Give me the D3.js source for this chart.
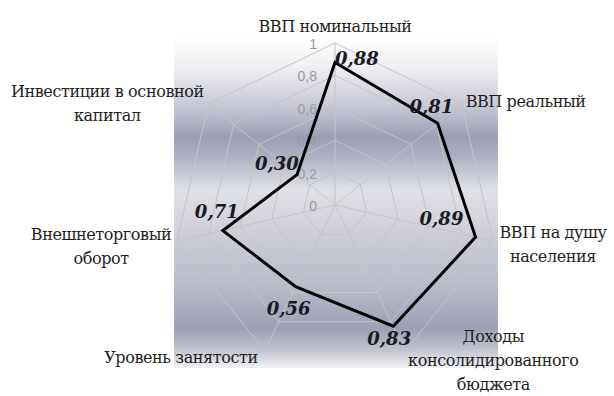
<!DOCTYPE html>
<html>
<head>
<meta charset="utf-8">
<script src="https://cdn.jsdelivr.net/npm/d3@7"></script>
<style>
  body { margin: 0; background: #fff; }
  svg { display: block; }
  .axis-label { font-family: "DejaVu Serif", "Liberation Serif", serif; font-size: 16px; fill: #1e1e1e; letter-spacing: -0.4px; }
  .value-label { font-family: "DejaVu Serif", "Liberation Serif", serif; font-size: 18px; font-weight: bold; font-style: italic; fill: #1a1a22; }
  .tick-label { font-family: "Liberation Sans", Arial, sans-serif; font-size: 14px; fill: #9a9a9a; }
</style>
</head>
<body>
<div id="chart"></div>
<script>
const categories = [
  ["ВВП номинальный"],
  ["ВВП реальный"],
  ["ВВП на душу", "населения"],
  ["Доходы", "консолидированного", "бюджета"],
  ["Уровень занятости"],
  ["Внешнеторговый", "оборот"],
  ["Инвестиции в основной", "капитал"]
];
const values = [0.88, 0.81, 0.89, 0.83, 0.56, 0.71, 0.30];
const ticks = [0, 0.2, 0.4, 0.6, 0.8, 1];

// label placement relative to the outer ring vertex: [dx, dy, anchor]
const labelOffset = [
  [0, -11, "middle"],
  [4, 3, "start"],
  [60, -3, "middle"],
  [88, -9, "middle"],
  [-7, 12, "end"],
  [-76, -1, "middle"],
  [-101, -7, "middle"]
];
// value label placement relative to the data vertex
const valueOffset = [
  [0, 3], [-28, -10], [-56, -12], [-26, 19], [-29, 28], [-28, -13], [-42, -5]
];

const width = 614, height = 396;
const cx = 335, cy = 205, radius = 162;
const lineGap = 24;

const svg = d3.select("#chart").append("svg")
  .attr("width", width)
  .attr("height", height);

// background gradient panel
const grad = svg.append("defs").append("linearGradient")
  .attr("id", "bg")
  .attr("x1", 0).attr("y1", 0).attr("x2", 0).attr("y2", 1);
[
  [0, "#ffffff"], [0.08, "#f1f1f4"], [0.2, "#c9cad6"], [0.3, "#9c9fb4"],
  [0.36, "#aeb0c1"], [0.46, "#e0e1e7"], [0.58, "#cfd0d9"], [0.76, "#b7b9c7"],
  [0.88, "#9da0b3"], [0.94, "#bdbfcb"], [1, "#f2f2f5"]
].forEach(([o, c]) => grad.append("stop").attr("offset", o).attr("stop-color", c));

svg.append("rect")
  .attr("x", 174).attr("y", 38)
  .attr("width", 324).attr("height", 330)
  .attr("fill", "url(#bg)");

const n = categories.length;
const angle = d3.scaleLinear().domain([0, n]).range([0, 2 * Math.PI]);
const r = d3.scaleLinear().domain([0, 1]).range([0, radius]);
const point = (i, v) => [
  cx + r(v) * Math.sin(angle(i)),
  cy - r(v) * Math.cos(angle(i))
];

const g = svg.append("g");

// rings
g.selectAll(".ring")
  .data(ticks.filter((t) => t > 0))
  .join("polygon")
  .attr("class", "ring")
  .attr("points", (t) => d3.range(n).map((i) => point(i, t).join(",")).join(" "))
  .attr("fill", "none")
  .attr("stroke", "#c4c4c8")
  .attr("stroke-width", 1);

// spokes
g.selectAll(".spoke")
  .data(d3.range(n))
  .join("line")
  .attr("class", "spoke")
  .attr("x1", cx).attr("y1", cy)
  .attr("x2", (i) => point(i, 1)[0])
  .attr("y2", (i) => point(i, 1)[1])
  .attr("stroke", "#c4c4c8")
  .attr("stroke-width", 1);

// tick labels
g.selectAll(".tick-label")
  .data(ticks)
  .join("text")
  .attr("class", "tick-label")
  .attr("x", cx - 18)
  .attr("y", (t) => cy - r(t) + 6)
  .attr("text-anchor", "end")
  .text((t) => String(t).replace(".", ","));

// data line
const line = d3.line().curve(d3.curveLinearClosed);
g.append("path")
  .attr("d", line(values.map((v, i) => point(i, v))))
  .attr("fill", "none")
  .attr("stroke", "#000")
  .attr("stroke-width", 3)
  .attr("stroke-linejoin", "miter");

// value labels
const fmt = d3.format(".2f");
g.selectAll(".value-label")
  .data(values)
  .join("text")
  .attr("class", "value-label")
  .attr("x", (v, i) => point(i, v)[0] + valueOffset[i][0])
  .attr("y", (v, i) => point(i, v)[1] + valueOffset[i][1])
  .text((v) => fmt(v).replace(".", ","));

// axis labels
const labels = g.selectAll(".axis-label")
  .data(categories)
  .join("text")
  .attr("class", "axis-label")
  .attr("text-anchor", (d, i) => labelOffset[i][2])
  .attr("x", (d, i) => point(i, 1)[0] + labelOffset[i][0])
  .attr("y", (d, i) => point(i, 1)[1] + labelOffset[i][1]);

labels.selectAll("tspan")
  .data((d, i) => d.map((s) => ({ s, i })))
  .join("tspan")
  .attr("x", (d) => point(d.i, 1)[0] + labelOffset[d.i][0])
  .attr("dy", (d, j) => (j === 0 ? 0 : lineGap))
  .text((d) => d.s);
</script>
</body>
</html>
